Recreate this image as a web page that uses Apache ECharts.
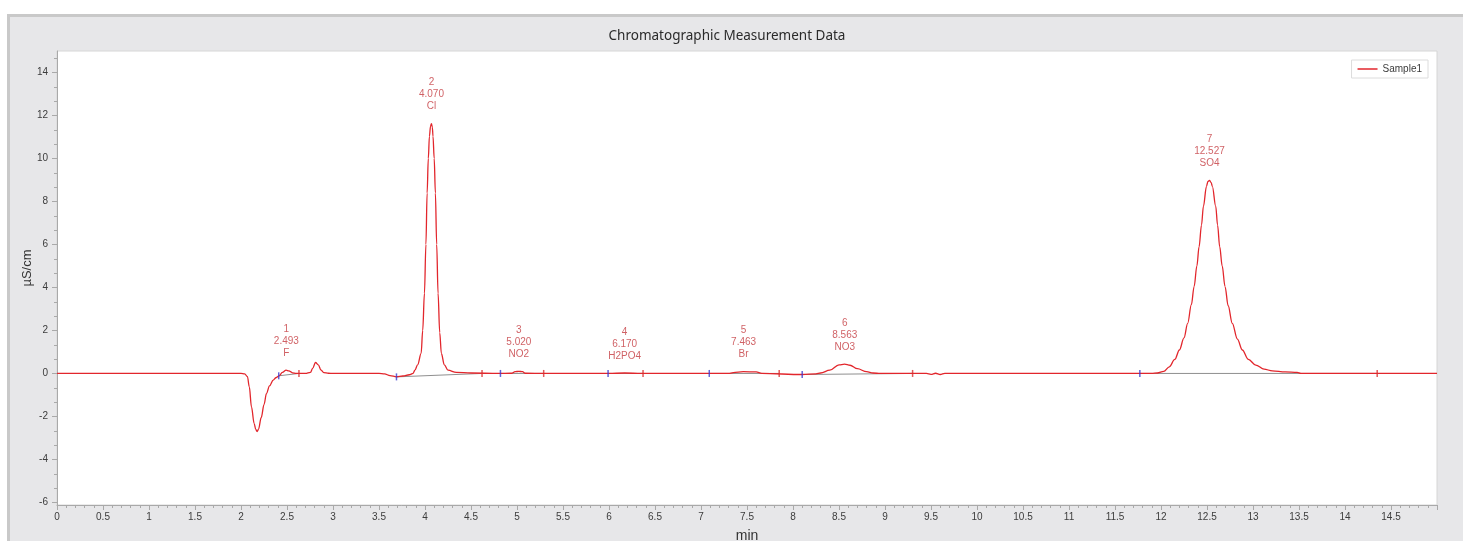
<!DOCTYPE html>
<html>
<head>
<meta charset="utf-8">
<script src="https://cdn.jsdelivr.net/npm/echarts@6/dist/echarts.min.js"></script>
<style>
  html, body { margin: 0; padding: 0; background: #ffffff; overflow: hidden; }
  #frame { position: absolute; left: 7px; top: 14px; width: 1470px; height: 540px;
           background: #e7e7e9; border-top: 3px solid #c9c9c9; border-left: 3px solid #c9c9c9; box-sizing: border-box; }
  #chart { position: absolute; left: 0; top: 0; width: 1463px; height: 541px; }
</style>
</head>
<body>
<div id="frame"></div>
<div id="chart"></div>
<script>
// ---- Data ----
const chartTitle = 'Chromatographic Measurement Data';
const seriesName = 'Sample1';
const xAxisName = 'min';
const yAxisName = 'µS/cm';

// retention time (min)
const times = [
  0, 2.0, 2.04, 2.07, 2.09, 2.114, 2.143, 2.16, 2.175, 2.19, 2.22, 2.25, 2.277, 2.31, 2.35, 2.38, 2.414,
  2.45, 2.49, 2.52, 2.56, 2.6, 2.7, 2.755, 2.78, 2.81, 2.84, 2.87, 2.9, 2.95, 3.0, 3.5, 3.56, 3.62, 3.69,
  3.76, 3.83, 3.87, 3.89, 3.92, 3.958, 3.975, 3.994, 4.01, 4.023, 4.036, 4.048, 4.06, 4.07, 4.08, 4.087,
  4.1, 4.113, 4.127, 4.142, 4.16, 4.178, 4.21, 4.25, 4.34, 4.5, 4.8, 4.94, 4.98, 5.02, 5.06, 5.09, 5.3,
  6.0, 6.17, 6.35, 7.3, 7.35, 7.46, 7.6, 7.66, 8.1, 8.25, 8.3, 8.4, 8.5, 8.56, 8.62, 8.7, 8.8, 8.87, 8.95,
  9.45, 9.5, 9.55, 9.6, 9.65, 11.9, 11.96, 12.03, 12.09, 12.15, 12.2, 12.25, 12.29, 12.33, 12.36, 12.39,
  12.414, 12.44, 12.461, 12.494, 12.51, 12.527, 12.545, 12.558, 12.595, 12.615, 12.638, 12.665, 12.696,
  12.73, 12.775, 12.83, 12.884, 12.95, 13.03, 13.12, 13.21, 13.35, 13.48, 13.52, 15.0
];
// conductivity (µS/cm)
const signal = [
  0, 0, -0.02, -0.15, -0.62, -1.56, -2.33, -2.6, -2.7, -2.6, -2.05, -1.45, -0.93, -0.58, -0.31, -0.2, -0.11,
  0.05, 0.15, 0.12, 0.03, 0.0, 0.0, 0.05, 0.25, 0.51, 0.4, 0.15, 0.04, 0.01, 0, 0, -0.02, -0.1, -0.16,
  -0.12, -0.06, 0.0, 0.15, 0.4, 0.93, 2.0, 3.73, 6.0, 8.39, 10.0, 11.03, 11.5, 11.62, 11.45, 11.03,
  10.0, 8.39, 6.0, 3.73, 1.9, 0.93, 0.4, 0.15, 0.05, 0.02, 0.0, 0.01, 0.08, 0.1, 0.08, 0.01, 0,
  0, 0.02, 0, 0, 0.04, 0.08, 0.07, 0, -0.05, -0.02, 0.02, 0.15, 0.4, 0.43, 0.38, 0.22, 0.08, 0.02, 0,
  0, -0.04, 0.01, -0.05, 0, 0, 0.02, 0.1, 0.31, 0.65, 1.09, 1.65, 2.33, 3.2, 4.04, 5.0,
  5.9, 6.9, 7.77, 8.7, 8.93, 8.98, 8.88, 8.7, 7.77, 6.9, 5.9, 5.0, 4.04,
  3.15, 2.33, 1.6, 1.09, 0.65, 0.39, 0.2, 0.12, 0.07, 0.05, 0.0, 0
];

// peak annotations
const peakNums = ['1', '2', '3', '4', '5', '6', '7'];
const peakTimes = [2.493, 4.070, 5.020, 6.170, 7.463, 8.563, 12.527];
const peakNames = ['F', 'Cl', 'NO2', 'H2PO4', 'Br', 'NO3', 'SO4'];
const peakHeights = [0.15, 11.62, 0.10, 0.02, 0.08, 0.43, 8.98];

// integration baselines: start/end time and level
const baseStartT = [2.41, 3.69, 4.82, 5.99, 7.09, 8.10, 11.77];
const baseStartV = [-0.11, -0.16, 0, 0, 0, -0.05, 0];
const baseEndT = [2.63, 4.62, 5.29, 6.37, 7.85, 9.30, 14.35];
const baseEndV = [0, 0, 0, 0, 0, 0, 0];

// axis ticks
const xMin = 0, xMax = 15, xStep = 0.5;
const yMin = -6.12, yMax = 15;
const yMajorTicks = [-6, -4, -2, 0, 2, 4, 6, 8, 10, 12, 14];
const yMinorTicks = [-5.333, -4.667, -3.333, -2.667, -1.333, -0.667, 0.667, 1.333, 2.667, 3.333,
  4.667, 5.333, 6.667, 7.333, 8.667, 9.333, 10.667, 11.333, 12.667, 13.333, 14.667];

// ---- Chart ----
const chart = echarts.init(document.getElementById('chart'), null, { renderer: 'canvas' });
const RED = '#e2262c';
const LABEL_RED = '#c43a3e';
const AXIS_GRAY = '#a9a9a9';
const TEXT = '#3c3c3c';
const FONT = 'Liberation Sans';

const lineData = times.map((t, i) => [t, signal[i]]);

const baselineSeries = baseStartT.map((t, i) => ({
  type: 'line', name: 'bl' + i, silent: true, showSymbol: false, animation: false,
  lineStyle: { color: '#8f8f8f', width: 1 }, z: 1,
  data: [[t, baseStartV[i]], [baseEndT[i], baseEndV[i]]]
}));

const startMarks = {
  type: 'scatter', name: 'startMarks', silent: true, animation: false, z: 4,
  symbol: 'rect', symbolSize: [1.5, 7], itemStyle: { color: '#3b3bd0' },
  data: baseStartT.map((t, i) => [t, baseStartV[i]])
};
const endMarks = {
  type: 'scatter', name: 'endMarks', silent: true, animation: false, z: 4,
  symbol: 'rect', symbolSize: [1.5, 7], itemStyle: { color: '#d83030' },
  data: baseEndT.map((t, i) => [t, baseEndV[i]])
};

const peakLabels = {
  type: 'scatter', name: 'peaks', silent: true, animation: false, z: 5,
  symbolSize: 0,
  data: peakTimes.map((t, i) => ({ value: [t, peakHeights[i]] })),
  label: {
    show: true, position: 'top', distance: 11,
    fontFamily: FONT, fontSize: 10, lineHeight: 12, color: LABEL_RED, align: 'center',
    formatter: p => {
      const i = p.dataIndex;
      return peakNums[i] + '\n' + peakTimes[i].toFixed(3) + '\n' + peakNames[i];
    }
  }
};

const option = {
  animation: false,
  backgroundColor: 'transparent',
  textStyle: { fontFamily: FONT },
  grid: {
    left: 57, top: 51, right: 26, bottom: 36,
    outerBoundsMode: 'none', containLabel: false,
    show: true, backgroundColor: '#ffffff', borderColor: '#d6d6d6', borderWidth: 1
  },
  legend: {
    data: [{ name: seriesName, icon: 'rect' }],
    right: 35, top: 60,
    backgroundColor: '#ffffff', borderColor: '#dcdcdc', borderWidth: 1,
    padding: [4, 6, 4, 6],
    itemWidth: 20, itemHeight: 1.5, itemGap: 4,
    textStyle: { fontFamily: FONT, fontSize: 10, color: TEXT }
  },
  xAxis: {
    type: 'value', min: xMin, max: xMax, interval: xStep,
    name: xAxisName, nameLocation: 'middle', nameGap: 24,
    nameTextStyle: { fontFamily: FONT, fontSize: 14, color: '#333' },
    axisLine: { show: true, onZero: false, lineStyle: { color: AXIS_GRAY } },
    axisTick: { show: true, length: 5, lineStyle: { color: AXIS_GRAY } },
    minorTick: { show: true, splitNumber: 5, length: 3, lineStyle: { color: AXIS_GRAY } },
    axisLabel: { fontFamily: FONT, fontSize: 10, color: TEXT, margin: 7, showMaxLabel: false },
    splitLine: { show: false }
  },
  yAxis: [{
    type: 'value', min: yMin, max: yMax, position: 'left',
    axisLine: { show: true, onZero: false, lineStyle: { color: AXIS_GRAY } },
    axisTick: { show: true, length: 5, customValues: yMajorTicks, lineStyle: { color: AXIS_GRAY } },
    axisLabel: { fontFamily: FONT, fontSize: 10, color: TEXT, margin: 9, customValues: yMajorTicks },
    splitLine: { show: false }
  }, {
    type: 'value', min: yMin, max: yMax, position: 'left',
    axisLine: { show: false, onZero: false },
    axisTick: { show: true, length: 3, customValues: yMinorTicks, lineStyle: { color: AXIS_GRAY } },
    axisLabel: { show: false },
    splitLine: { show: false }
  }],
  graphic: [{
    type: 'text', x: 727, y: 36, z: 100,
    style: { text: chartTitle, fontFamily: 'Noto Sans', fontSize: 13.5, fill: '#2b2b2b', align: 'center', verticalAlign: 'middle' }
  }, {
    type: 'text', x: 27, y: 268, rotation: Math.PI / 2, z: 100,
    style: { text: yAxisName, fontFamily: FONT, fontSize: 13, fill: '#333', align: 'center', verticalAlign: 'middle' }
  }],
  series: [
    ...baselineSeries,
    {
      type: 'line', name: seriesName, data: lineData, showSymbol: false, z: 3,
      smooth: 0.35, smoothMonotone: 'x',
      lineStyle: { color: RED, width: 1.3 }, itemStyle: { color: RED }
    },
    startMarks, endMarks, peakLabels
  ]
};
chart.setOption(option);
</script>
</body>
</html>
